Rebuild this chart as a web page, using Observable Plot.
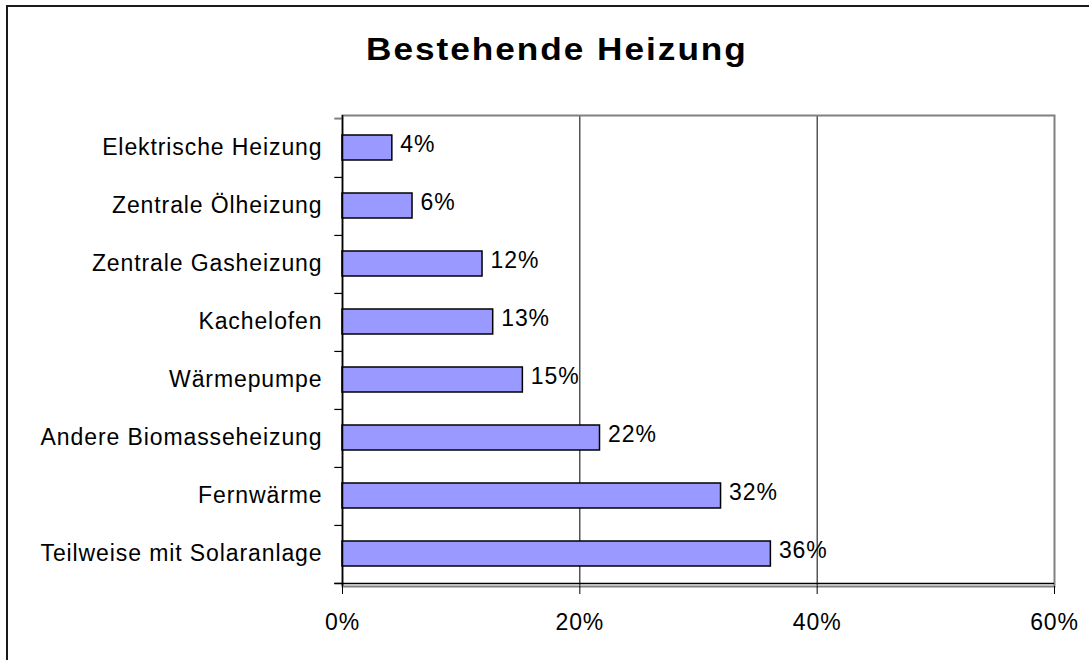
<!DOCTYPE html>
<html>
<head>
<meta charset="utf-8">
<script src="https://cdn.jsdelivr.net/npm/d3@7"></script>
<script src="https://cdn.jsdelivr.net/npm/@observablehq/plot@0.6"></script>
<style>
  html, body { margin: 0; padding: 0; background: #fff; overflow: hidden; }
  #wrap { position: relative; width: 1089px; height: 660px; overflow: hidden; font-family: "Liberation Sans", Arial, sans-serif; }
  #outer { position: absolute; left: 6px; top: 5px; width: 1300px; height: 900px; border: 2px solid #1a1a1a; box-sizing: border-box; pointer-events: none; }
  #title { height: 90px; box-sizing: border-box; padding-top: 34px; padding-left: 366px; font-size: 32px; line-height: 30px; font-weight: bold; color: #000; white-space: nowrap; }
  #title span { display: inline-block; transform: scaleX(1.1); transform-origin: 0 50%; letter-spacing: 1.8px; }
  #chart svg { display: block; }
</style>
</head>
<body>
<div id="wrap">
  <div id="outer"></div>
  <div id="title"><span>Bestehende Heizung</span></div>
  <div id="chart"></div>
</div>
<script>
const categories = [
  "Elektrische Heizung",
  "Zentrale Ölheizung",
  "Zentrale Gasheizung",
  "Kachelofen",
  "Wärmepumpe",
  "Andere Biomasseheizung",
  "Fernwärme",
  "Teilweise mit Solaranlage"
];
const values = [4.2, 5.9, 11.8, 12.7, 15.2, 21.7, 31.9, 36.1];
const xTicks = [0, 20, 40, 60];
const gridValues = [20, 40];

const data = categories.map((c, i) => ({category: c, value: values[i]}));

const W = 1089, H = 570, mt = 25, mb = 74, ml = 342, mr = 35;
const step = (H - mt - mb) / categories.length;
const tickLen = -0.65;

const chart = Plot.plot({
  width: W,
  height: H,
  marginTop: mt,
  marginBottom: mb,
  marginLeft: ml,
  marginRight: mr,
  style: {fontFamily: "'Liberation Sans', Arial, sans-serif", fontSize: "23px", color: "#000", background: "transparent", letterSpacing: "0.9px"},
  x: {domain: [0, 60], label: null},
  y: {domain: categories, paddingInner: 0.575, paddingOuter: 0.2875, label: null},
  marks: [
    Plot.ruleX(gridValues, {stroke: "#000", strokeWidth: 1}),
    Plot.frame({stroke: "#808080", strokeWidth: 2}),
    Plot.ruleY([categories[0]], {x1: tickLen, x2: 0, dy: -step / 2, stroke: "#808080", strokeWidth: 2}),
    Plot.barX(data, {x: "value", y: "category", fill: "#9999ff", stroke: "#000", strokeWidth: 1.5}),
    Plot.text(data, {x: "value", y: "category", text: d => Math.round(d.value) + "%", textAnchor: "start", dx: 8, dy: -3, fill: "#000", letterSpacing: 0.2}),
    Plot.ruleX([0], {stroke: "#000", strokeWidth: 1.5}),
    Plot.ruleY(categories, {x1: tickLen, x2: 0, dy: step / 2, stroke: "#000", strokeWidth: 1.2}),
    Plot.ruleY([categories[categories.length - 1]], {x1: tickLen, x2: 60, dy: step / 2, stroke: "#000", strokeWidth: 1.5}),
    Plot.axisX({ticks: xTicks, tickFormat: d => d + "%", tickSize: 8, tickPadding: 19, stroke: "#000", fill: "#000", label: null}),
    Plot.axisY({tickSize: 0, tickPadding: 20, fill: "#000", label: null})
  ]
});
document.getElementById("chart").appendChild(chart);
</script>
</body>
</html>
